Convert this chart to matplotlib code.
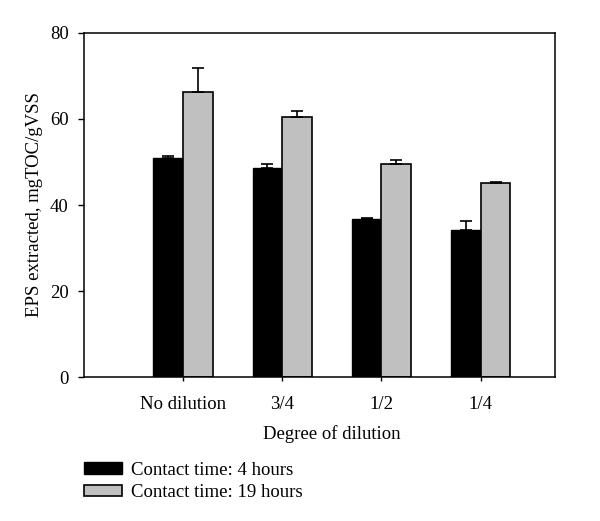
import matplotlib
matplotlib.use('Agg')
import matplotlib.pyplot as plt
import numpy as np

categories = ['No dilution', '3/4', '1/2', '1/4']
eps_4h = [50.8, 48.6, 36.8, 34.2]
err_4h = [0.5, 0.9, 0.2, 2.0]
eps_19h = [66.1, 60.4, 49.5, 45.1]
err_19h = [5.6, 1.4, 1.0, 0.3]
labels = ['Contact time: 4 hours', 'Contact time: 19 hours']

plt.rcParams['font.family'] = ['Liberation Serif', 'DejaVu Serif']
fs = 13.5

fig = plt.figure(figsize=(6, 5.21), dpi=100)
ax = fig.add_axes([0.14, 0.2755, 0.785, 0.662])

x = np.arange(1, len(categories) + 1)
w = 0.3
ekw = dict(elinewidth=1.2, capthick=1.2, ecolor='black')
ax.bar(x - w / 2, eps_4h, w, color='black', edgecolor='black', linewidth=1,
       yerr=[np.zeros(4), err_4h], capsize=4, error_kw=ekw, label=labels[0], zorder=2)
ax.bar(x + w / 2, eps_19h, w, color='#c0c0c0', edgecolor='black', linewidth=1.2,
       yerr=[np.zeros(4), err_19h], capsize=4, error_kw=ekw, label=labels[1], zorder=2)

ax.set_xlim(0, 4.75)
ax.set_ylim(0, 80)
ax.set_yticks([0, 20, 40, 60, 80])
ax.set_xticks(x)
ax.set_xticklabels(categories)
ax.tick_params(axis='both', direction='out', labelsize=fs, width=1)
ax.tick_params(axis='y', length=4, pad=7)
ax.tick_params(axis='x', length=3, pad=10)
for s in ax.spines.values():
    s.set_linewidth(1.1)

ax.set_xlabel('Degree of dilution', fontsize=fs)
ax.xaxis.set_label_coords(0.527, -0.137)
ax.set_ylabel('EPS extracted, mgTOC/gVSS', fontsize=fs, labelpad=5)

fig.legend(loc='upper left', bbox_to_anchor=(0.14, 0.114), frameon=False,
           fontsize=fs, handlelength=2.0, handleheight=0.55, labelspacing=0.29,
           handletextpad=0.5, borderaxespad=0, borderpad=0)

fig.savefig('out.png', dpi=100)
